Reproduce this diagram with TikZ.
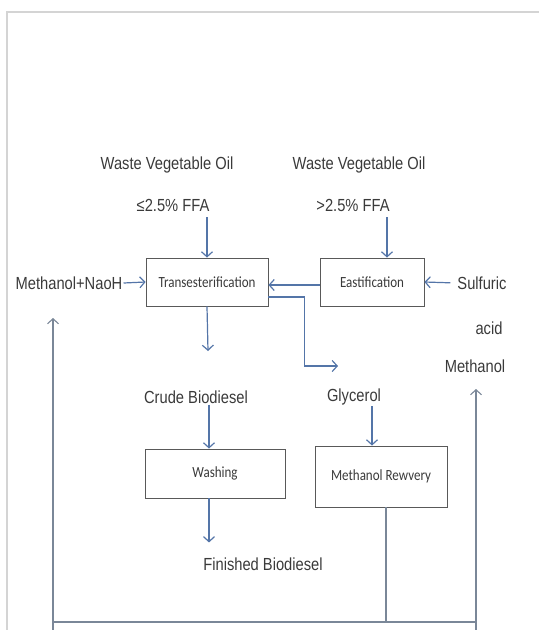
\documentclass[tikz,border=0pt]{standalone}
\usepackage{fontspec}
\setmainfont{Liberation Sans}[FakeStretch=0.84]
\newfontfamily\boxfont{Carlito}[FakeStretch=0.84]
\usetikzlibrary{arrows.meta}
\definecolor{flowblue}{HTML}{5475A8}
\definecolor{loopgray}{HTML}{7A8798}
\definecolor{txtgray}{HTML}{3A3A3A}
\definecolor{framegray}{HTML}{D4D4D4}
\begin{document}
\begin{tikzpicture}[x=1pt, y=-1pt,
  lbl/.style={text=txtgray, inner sep=1pt, font=\fontsize{17.5}{20}\selectfont},
  box/.style={draw=black!65, line width=0.9pt, text=txtgray, font=\boxfont\fontsize{15.5}{18}\selectfont},
  flow/.style={draw=flowblue, line width=1.2pt, -{Straight Barb[length=5pt,width=11pt]}},
  loop/.style={draw=loopgray, line width=1.1pt}]
\useasboundingbox (0,0) rectangle (539,630);
\draw[framegray, line width=1.2pt] (7,630) -- (7,12) -- (539,12);

\node[lbl] (wvoA) at (167,165) {Waste Vegetable Oil};
\node[lbl] (ffaA) at (173,205) {≤2.5\% FFA};
\node[lbl] (wvoB) at (359,165) {Waste Vegetable Oil};
\node[lbl] (ffaB) at (353,205) {>2.5\% FFA};
\node[box, minimum width=122pt, minimum height=48pt] (trans) at (207,282) {Transesterification};
\node[box, minimum width=104pt, minimum height=48pt] (east) at (372,282) {Eastification};
\node[lbl] (meoh) at (69,283) {Methanol+NaoH};
\node[lbl] (sulf) at (482,283) {Sulfuric};
\node[lbl] (acid) at (489,328) {acid};
\node[lbl] (meth) at (475,366) {Methanol};
\node[lbl] (crude) at (196,397) {Crude Biodiesel};
\node[lbl] (glyc) at (354,397) {Glycerol};
\node[box, minimum width=140pt, minimum height=49pt] (wash) at (215,473.5) {Washing};
\node[box, minimum width=132pt, minimum height=61pt] (recov) at (381,476.5) {Methanol Rewvery};
\node[lbl] (fin) at (263,564) {Finished Biodiesel};

\coordinate (tdown) at (208,351);
\coordinate (gout) at (338,366);
\coordinate (lbot) at (53,630);
\coordinate (ltip) at (53,318);
\coordinate (rbot) at (476,630);

% feeds into the two reactors
\draw[flow, shorten <=5pt] (ffaA.south -| trans.north) -- (trans.north);
\draw[flow, shorten <=5pt] ([xshift=15pt]east.north |- ffaB.south) -- ([xshift=15pt]east.north);
\draw[flow] (meoh.east) -- (trans.west);
\draw[flow] ([yshift=-3pt]east.west) -- ([yshift=-3pt]trans.east);
\draw[flow, shorten <=6pt] (sulf.west) -- (east.east);

% products
\draw[flow] (trans.south) -- (tdown);
\draw[flow] ([yshift=-15pt]trans.east) -- ++(36,0) |- (gout);
\draw[flow] ([xshift=-6pt]wash.north |- crude.south) -- ([xshift=-6pt]wash.north);
\draw[flow] ([xshift=-9pt]recov.north |- glyc.south) -- ([xshift=-9pt]recov.north);
\draw[flow] ([xshift=-6pt]wash.south) -- ([xshift=-6pt,yshift=-44pt]wash.south);

% methanol recycle
\draw[loop] ([xshift=5pt]recov.south) -- ([xshift=5pt]recov.south |- 0,622);
\draw[loop] (lbot |- 0,622) -- (rbot |- 0,622);
\draw[loop, -{Straight Barb[length=5pt,width=11pt]}] (lbot) -- (ltip);
\draw[loop, -{Straight Barb[length=5pt,width=11pt]}] (rbot) -- (rbot |- 0,389);
\end{tikzpicture}
\end{document}
